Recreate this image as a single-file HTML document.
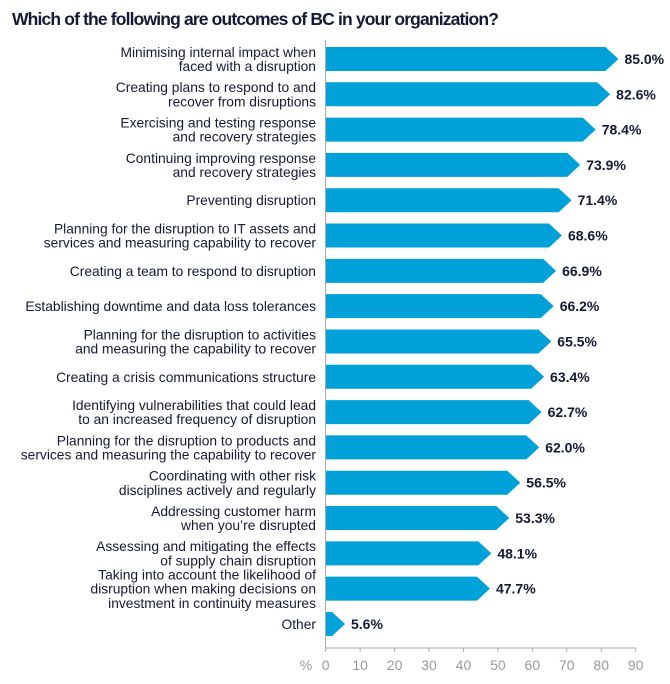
<!DOCTYPE html>
<html><head><style>
body{margin:0;background:#fff;width:670px;height:679px;overflow:hidden;font-family:"Liberation Sans",sans-serif;}
</style></head><body>
<svg width="670" height="679" xmlns="http://www.w3.org/2000/svg" font-family="Liberation Sans, sans-serif">
<text x="12" y="25" font-size="17.5" font-weight="bold" fill="#141a33" letter-spacing="-0.85">Which of the following are outcomes of BC in your organization?</text>
<g id="bars"></g>
<line x1="325.5" y1="40" x2="325.5" y2="648" stroke="#aaa" stroke-width="1"/>
<line x1="325" y1="648" x2="636" y2="648" stroke="#aaa" stroke-width="1"/>
<g id="ax" font-size="14" fill="#999" text-anchor="middle"></g>
<text x="306" y="670" font-size="14" fill="#999" text-anchor="middle">%</text>
</svg>
<script>
var d=[["Minimising internal impact when","faced with a disruption",85.0],
["Creating plans to respond to and","recover from disruptions",82.6],
["Exercising and testing response","and recovery strategies",78.4],
["Continuing improving response","and recovery strategies",73.9],
["Preventing disruption","",71.4],
["Planning for the disruption to IT assets and","services and measuring capability to recover",68.6],
["Creating a team to respond to disruption","",66.9],
["Establishing downtime and data loss tolerances","",66.2],
["Planning for the disruption to activities","and measuring the capability to recover",65.5],
["Creating a crisis communications structure","",63.4],
["Identifying vulnerabilities that could lead","to an increased frequency of disruption",62.7],
["Planning for the disruption to products and","services and measuring the capability to recover",62.0],
["Coordinating with other risk","disciplines actively and regularly",56.5],
["Addressing customer harm","when you\u2019re disrupted",53.3],
["Assessing and mitigating the effects","of supply chain disruption",48.1],
["Taking into account the likelihood of","disruption when making decisions on","investment in continuity measures",47.7],
["Other","",5.6]];
var g=document.getElementById("bars"),s="";
var x0=325.7,k=3.444;
d.forEach(function(r,i){
 var v=r[r.length-1],lines=r.slice(0,r.length-1).filter(function(t){return t});
 var top=47+i*35.31,h=24,cy=top+h/2,tip=x0+v*k,b=Math.max(x0,tip-13);
 s+='<polygon fill="#00a0d8" points="'+x0+','+top+' '+b+','+top+' '+tip+','+cy+' '+b+','+(top+h)+' '+x0+','+(top+h)+'"/>';
 s+='<text x="'+(tip+6)+'" y="'+(cy+5)+'" font-size="14" font-weight="bold" fill="#141a33">'+v.toFixed(1)+'%</text>';
 var n=lines.length,lh=14.2;
 lines.forEach(function(t,j){
  var y=cy+5+(j-(n-1)/2)*lh;
  s+='<text x="316" y="'+y+'" font-size="13.8" fill="#141a33" text-anchor="end">'+t+'</text>';
 });
});
g.innerHTML=s;
var a="";
for(var t=0;t<=90;t+=10){var x=x0+t*k;a+='<line x1="'+x+'" y1="648" x2="'+x+'" y2="652" stroke="#aaa"/><text x="'+x+'" y="670">'+t+'</text>';}
document.getElementById("ax").innerHTML=a;
</script>
</body></html>
